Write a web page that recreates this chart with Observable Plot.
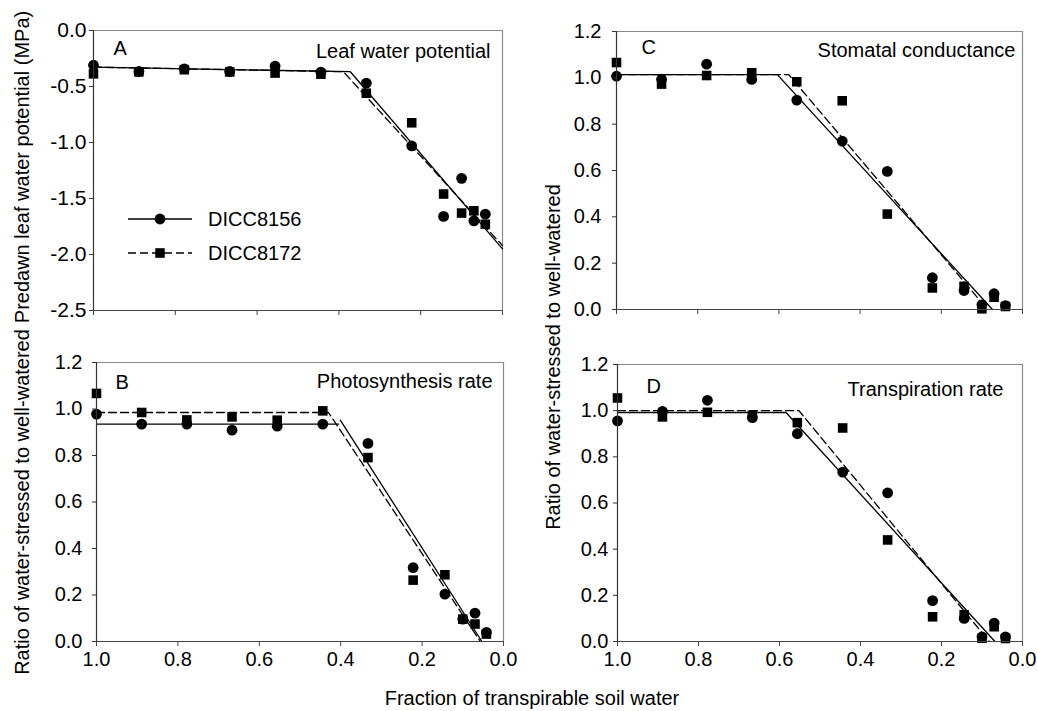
<!DOCTYPE html>
<html>
<head>
<meta charset="utf-8">
<script src="https://cdn.jsdelivr.net/npm/d3@7"></script>
<script src="https://cdn.jsdelivr.net/npm/@observablehq/plot@0.6"></script>
<style>
  body { margin: 0; background: white; }
  #wrap { position: relative; width: 1037px; height: 711px; overflow: hidden; background: white; font-family: "Liberation Sans", Arial, sans-serif; }
  #wrap > svg, #wrap > figure { position: absolute; margin: 0; }
</style>
</head>
<body>
<div id="wrap"></div>
<script>
// ---- data ----
const seriesNames = ["DICC8156", "DICC8172"];
const xFTSW = [1.0, 0.889, 0.778, 0.667, 0.556, 0.444, 0.333, 0.222, 0.144, 0.1, 0.07, 0.042];
const xTicks = [1.0, 0.8, 0.6, 0.4, 0.2, 0.0];
const yTicksLWP = [0.0, -0.5, -1.0, -1.5, -2.0, -2.5];
const yTicksRatio = [0.0, 0.2, 0.4, 0.6, 0.8, 1.0, 1.2];

// Panel A: predawn leaf water potential (MPa)
const lwp8156 = [-0.31, -0.366, -0.342, -0.366, -0.318, -0.372, -0.47, -1.03, -1.66, -1.32, -1.70, -1.64];
const lwp8172 = [-0.387, -0.37, -0.35, -0.37, -0.38, -0.39, -0.56, -0.824, -1.46, -1.63, -1.61, -1.73];
const fitA8156X = [1.0, 0.372, 0.0], fitA8156Y = [-0.327, -0.368, -1.95], fitA8156S = [0, 0, 0];
const fitA8172X = [1.0, 0.389, 0.0], fitA8172Y = [-0.327, -0.368, -1.92], fitA8172S = [0, 0, 0];

// Panel B: photosynthesis rate ratio
const ps8156 = [0.978, 0.935, 0.935, 0.909, 0.926, 0.935, 0.852, 0.318, 0.204, 0.096, 0.122, 0.039];
const ps8172 = [1.067, 0.985, 0.953, 0.966, 0.952, 0.992, 0.791, 0.264, 0.287, 0.096, 0.075, 0.032];
const fitB8156X = [1.0, 0.405, 0.401, 0.053], fitB8156Y = [0.935, 0.935, 0.952, 0.0], fitB8156S = [0, 0, 1, 1];
const fitB8172X = [1.0, 0.43, 0.057], fitB8172Y = [0.985, 0.985, 0.0], fitB8172S = [0, 0, 0];

// Panel C: stomatal conductance ratio
const gs8156 = [1.007, 0.994, 1.059, 0.993, 0.904, 0.727, 0.596, 0.137, 0.082, 0.02, 0.068, 0.017];
const gs8172 = [1.066, 0.973, 1.010, 1.022, 0.983, 0.901, 0.412, 0.093, 0.10, 0.003, 0.053, 0.013];
const fitC8156X = [1.0, 0.604, 0.074], fitC8156Y = [1.014, 1.014, 0.0], fitC8156S = [0, 0, 0];
const fitC8172X = [1.0, 0.576, 0.086], fitC8172Y = [1.014, 1.014, 0.0], fitC8172S = [0, 0, 0];

// Panel D: transpiration rate ratio
const tr8156 = [0.956, 0.997, 1.045, 0.970, 0.900, 0.734, 0.644, 0.177, 0.100, 0.020, 0.080, 0.020];
const tr8172 = [1.055, 0.973, 0.993, 0.980, 0.948, 0.925, 0.440, 0.107, 0.116, 0.014, 0.064, 0.013];
const fitD8156X = [1.0, 0.584, 0.068], fitD8156Y = [0.992, 0.992, 0.0], fitD8156S = [0, 0, 0];
const fitD8172X = [1.0, 0.552, 0.082], fitD8172Y = [1.0, 1.0, 0.0], fitD8172S = [0, 0, 0];

const panelLetters = ["A", "B", "C", "D"];
const panelTitles = ["Leaf water potential", "Photosynthesis rate", "Stomatal conductance", "Transpiration rate"];
const yTitleLWP = "Predawn leaf water potential (MPa)";
const yTitleRatio = "Ratio of water-stressed to well-watered";
const xTitle = "Fraction of transpirable soil water";

// ---- drawing ----
const FONT = "'Liberation Sans', Arial, sans-serif";
const R = 5.4;
const fmt = d => d.toFixed(1);
const rows = (X, Y, S) => X.map((x, i) => ({x, y: Y[i], seg: S ? S[i] : 0}));

function panel(cfg) {
  const c = rows(xFTSW, cfg.c), s = rows(xFTSW, cfg.s);
  const [y0, y1] = cfg.yDomain;
  const svg = Plot.plot({
    width: cfg.w, height: cfg.h,
    marginLeft: cfg.ml, marginRight: cfg.mr, marginTop: cfg.mt, marginBottom: cfg.mb,
    x: {domain: [1, 0], label: null},
    y: {domain: cfg.yDomain, label: null},
    style: {fontFamily: FONT, fontSize: "20px", color: "black", background: "transparent", overflow: "visible"},
    marks: [
      Plot.ruleY([y1], {stroke: "#8a8a8a", strokeWidth: 1.2}),
      Plot.ruleX([0], {stroke: "#8a8a8a", strokeWidth: 1.2}),
      Plot.line(rows(cfg.f1X, cfg.f1Y, cfg.f1S), {x: "x", y: "y", z: "seg", stroke: "black", strokeWidth: 1.3}),
      Plot.line(rows(cfg.f2X, cfg.f2Y, cfg.f2S), {x: "x", y: "y", z: "seg", stroke: "black", strokeWidth: 1.3, strokeDasharray: "8,4"}),
      Plot.dot(c, {x: "x", y: "y", r: R, symbol: "circle", fill: "black", stroke: "none"}),
      Plot.dot(s, {x: "x", y: "y", r: R, symbol: "square", fill: "black", stroke: "none"}),
      Plot.axisY(cfg.yTicks, {tickSize: 4, tickPadding: cfg.tp, tickFormat: fmt, label: null, stroke: "#333", fontSize: cfg.tfs || 20}),
      Plot.axisX(xTicks, {tickSize: 5, tickPadding: 5, tickFormat: cfg.bottom ? fmt : () => "", label: null, stroke: "#444", fontSize: 20}),
      Plot.ruleX([1], {stroke: "#333", strokeWidth: 1.2}),
      Plot.ruleY([y0], {stroke: "#444", strokeWidth: 1.2}),
      Plot.text([cfg.letter], {text: d => d, frameAnchor: "top-left", dx: cfg.ldx, dy: cfg.ldy, textAnchor: "start", lineAnchor: "middle", fontSize: 20}),
      Plot.text([cfg.title], {text: d => d, frameAnchor: "top-right", dx: cfg.tdx, dy: cfg.tdy, textAnchor: "end", lineAnchor: "middle", fontSize: 20})
    ]
  });
  svg.style.left = cfg.left + "px";
  svg.style.top = cfg.top + "px";
  return svg;
}

const wrap = document.getElementById("wrap");

wrap.appendChild(panel({
  left: 0, top: 0, w: 520, h: 330, ml: 93, mr: 18, mt: 30, mb: 20,
  c: lwp8156, s: lwp8172, yDomain: [-2.5, 0], yTicks: yTicksLWP, tp: 3, tfs: 21,
  f1X: fitA8156X, f1Y: fitA8156Y, f1S: fitA8156S, f2X: fitA8172X, f2Y: fitA8172Y, f2S: fitA8172S,
  letter: panelLetters[0], title: panelTitles[0], ldx: 20, ldy: 18, tdx: -12, tdy: 21, bottom: false
}));
wrap.appendChild(panel({
  left: 0, top: 330, w: 520, h: 381, ml: 96, mr: 17, mt: 32, mb: 70,
  c: ps8156, s: ps8172, yDomain: [0, 1.2], yTicks: yTicksRatio, tp: 10,
  f1X: fitB8156X, f1Y: fitB8156Y, f1S: fitB8156S, f2X: fitB8172X, f2Y: fitB8172Y, f2S: fitB8172S,
  letter: panelLetters[1], title: panelTitles[1], ldx: 19, ldy: 20, tdx: -11, tdy: 19, bottom: true
}));
wrap.appendChild(panel({
  left: 520, top: 0, w: 517, h: 330, ml: 96, mr: 15, mt: 31, mb: 21,
  c: gs8156, s: gs8172, yDomain: [0, 1.2], yTicks: yTicksRatio, tp: 11,
  f1X: fitC8156X, f1Y: fitC8156Y, f1S: fitC8156S, f2X: fitC8172X, f2Y: fitC8172Y, f2S: fitC8172S,
  letter: panelLetters[2], title: panelTitles[2], ldx: 25, ldy: 16, tdx: -7, tdy: 19, bottom: false
}));
wrap.appendChild(panel({
  left: 520, top: 330, w: 517, h: 381, ml: 97, mr: 15, mt: 34, mb: 70,
  c: tr8156, s: tr8172, yDomain: [0, 1.2], yTicks: yTicksRatio, tp: 5,
  f1X: fitD8156X, f1Y: fitD8156Y, f1S: fitD8156S, f2X: fitD8172X, f2Y: fitD8172Y, f2S: fitD8172S,
  letter: panelLetters[3], title: panelTitles[3], ldx: 29, ldy: 22, tdx: -19, tdy: 25, bottom: true
}));

// ---- overlay: axis titles and legend ----
const ov = d3.select(wrap).append("svg")
  .attr("width", 1037).attr("height", 711)
  .style("left", "0px").style("top", "0px").style("pointer-events", "none")
  .attr("font-family", FONT).attr("font-size", 20).attr("fill", "black");

ov.append("text").attr("transform", "translate(22,167) rotate(-90)")
  .attr("text-anchor", "middle").attr("dominant-baseline", "central").text(yTitleLWP);
ov.append("text").attr("transform", "translate(22,502) rotate(-90)")
  .attr("text-anchor", "middle").attr("dominant-baseline", "central").text(yTitleRatio);
ov.append("text").attr("transform", "translate(553,357) rotate(-90)")
  .attr("text-anchor", "middle").attr("dominant-baseline", "central").text(yTitleRatio);
ov.append("text").attr("x", 532).attr("y", 698)
  .attr("text-anchor", "middle").attr("dominant-baseline", "central").text(xTitle);

// legend
const lg = ov.append("g");
const legendRows = [
  {name: seriesNames[0], y: 219, dash: null, sym: d3.symbolCircle},
  {name: seriesNames[1], y: 253, dash: "8,4", sym: d3.symbolSquare}
];
legendRows.forEach(r => {
  lg.append("line").attr("x1", 128).attr("x2", 192).attr("y1", r.y).attr("y2", r.y)
    .attr("stroke", "black").attr("stroke-width", 1.3).attr("stroke-dasharray", r.dash);
  lg.append("path").attr("transform", `translate(160,${r.y})`)
    .attr("d", d3.symbol(r.sym, Math.PI * R * R)()).attr("fill", "black");
  lg.append("text").attr("x", 208).attr("y", r.y).attr("dominant-baseline", "central").text(r.name);
});
</script>
</body>
</html>
